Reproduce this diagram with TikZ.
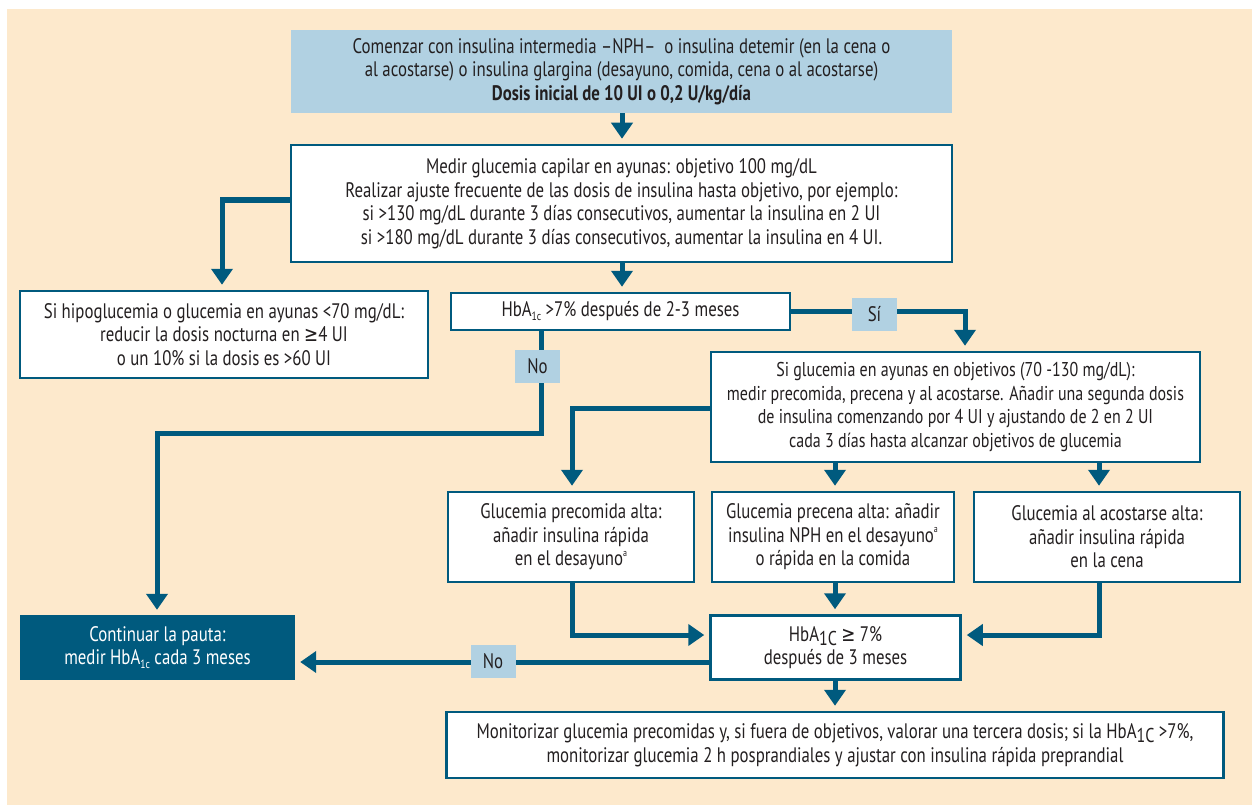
\documentclass[tikz,border=0pt]{standalone}
\usepackage{fontspec}
\setmainfont{PT Sans}[FakeStretch=0.8]
\newfontfamily\symf{DejaVu Sans}[FakeStretch=0.8]
\usetikzlibrary{arrows.meta}
\definecolor{beige}{HTML}{FDE9CC}
\definecolor{teal}{HTML}{005A7E}
\definecolor{lightb}{HTML}{B1D1E2}
\definecolor{txt}{HTML}{231F20}
\newcommand{\fs}{\fontsize{21}{23.5}\selectfont}
\newcommand{\fss}{\fontsize{20}{23.5}\selectfont}
\newcommand{\sbs}[1]{\raisebox{-0.35ex}{\fontsize{12}{12}\selectfont #1}}
\newcommand{\sbb}[1]{\raisebox{-0.4ex}{\fontsize{20}{20}\selectfont #1}}
\newcommand{\sps}[1]{\raisebox{0.9ex}{\fontsize{10}{10}\selectfont #1}}
\newcommand{\mygeq}{{\symf ≥}}
\tikzset{
  box/.style={draw=teal, line width=2.5pt, fill=white, align=center, inner sep=0pt, text=txt, font=\fs},
  topbox/.style={fill=lightb, align=center, inner sep=0pt, text=txt, font=\fs},
  darkbox/.style={fill=teal, align=center, inner sep=0pt, text=white, font=\fs},
  lab/.style={fill=lightb, minimum width=45pt, minimum height=33pt, inner sep=0pt, text=txt, font=\fs},
  conn/.style={draw=teal, line width=5pt},
  arr/.style={conn, -{Triangle[width=21pt,length=16pt]}, shorten >=5pt}
}
\begin{document}
\begin{tikzpicture}[x=1pt,y=-1pt]
\useasboundingbox (0,0) rectangle (1252,805);
\fill[white] (0,0) rectangle (1252,805);
\fill[beige] (7,9) rectangle (1252,805);

\node[topbox, minimum width=661pt, minimum height=83pt] (top) at (621.5,71.5)
 {Comenzar con insulina intermedia –NPH–\ \ o insulina detemir (en la cena o\\
  al acostarse) o insulina glargina (desayuno, comida, cena o al acostarse)\\
  \textbf{Dosis inicial de 10 UI o 0,2 U/kg/día}};

\node[box, minimum width=661pt, minimum height=117pt] (medir) at (621.5,203.5)
 {Medir glucemia capilar en ayunas: objetivo 100 mg/dL\\
  Realizar ajuste frecuente de las dosis de insulina hasta objetivo, por ejemplo:\\
  si >130 mg/dL durante 3 días consecutivos, aumentar la insulina en 2 UI\\
  si >180 mg/dL durante 3 días consecutivos, aumentar la insulina en 4 UI.};

\node[box, minimum width=408pt, minimum height=87pt] (hypo) at (224,334.5)
 {Si hipoglucemia o glucemia en ayunas <70 mg/dL:\\
  reducir la dosis nocturna en \mygeq 4 UI\\
  o un 10\% si la dosis es >60 UI};

\node[box, minimum width=339pt, minimum height=37pt] (hba) at (620.5,311.5)
 {HbA\sbs{1c} >7\% después de 2-3 meses};

\node[box, font=\fss, minimum width=489pt, minimum height=110pt] (sig) at (955.5,407)
 {Si glucemia en ayunas en objetivos (70 -130 mg/dL):\\
  medir precomida, precena y al acostarse. Añadir una segunda dosis\\
  de insulina comenzando por 4 UI y ajustando de 2 en 2 UI\\
  cada 3 días hasta alcanzar objetivos de glucemia};

\node[box, minimum width=246pt, minimum height=90pt] (prec) at (571,537)
 {Glucemia precomida alta:\\
  añadir insulina rápida\\
  en el desayuno\sps{a}};

\node[box, minimum width=242pt, minimum height=90pt] (pren) at (833,537)
 {Glucemia precena alta: añadir\\
  insulina NPH en el desayuno\sps{a}\\
  o rápida en la comida};

\node[box, minimum width=266pt, minimum height=90pt] (acos) at (1107,537)
 {Glucemia al acostarse alta:\\
  añadir insulina rápida\\
  en la cena};

\node[box, minimum width=250pt, minimum height=64pt] (hba7) at (835.5,647.5)
 {HbA\sbb{1C} \mygeq\ 7\%\\
  después de 3 meses};

\node[darkbox, minimum width=275pt, minimum height=65pt] (cont) at (157.5,647.5)
 {Continuar la pauta:\\
  medir HbA\sbs{1c} cada 3 meses};

\node[box, minimum width=777pt, minimum height=66pt] (moni) at (835,745)
 {Monitorizar glucemia precomidas y, si fuera de objetivos, valorar una tercera dosis; si la HbA\sbb{1C} >7\%,\\
  monitorizar glucemia 2 h posprandiales y ajustar con insulina rápida preprandial};

% connectors
\draw[arr] (top.south -| 622,0) -- (medir.north -| 622,0);
\draw[arr] (medir.west |- 0,200) -- (222,200) -- (hypo.north -| 222,0);
\draw[arr] (medir.south -| 622,0) -- (hba.north -| 622,0);
\draw[arr] (hba.east) -- (965,311.5) -- (sig.north -| 965,0);
\node[lab] (si) at (874.5,314) {Sí};
\draw[arr] (hba.south -| 541,0) -- (541,433) -- (157,433) -- (cont.north -| 157,0);
\node[lab] (no1) at (537.5,366.5) {No};
\draw[arr] (sig.west |- 0,408) -- (572,408) -- (prec.north -| 572,0);
\draw[arr] (sig.south -| 835,0) -- (pren.north -| 835,0);
\draw[arr] (sig.south -| 1099,0) -- (acos.north -| 1099,0);
\draw[arr] (prec.south -| 572,0) -- (572,635) -- (hba7.west |- 0,635);
\draw[arr] (pren.south -| 835,0) -- (hba7.north -| 835,0);
\draw[arr] (acos.south -| 1099,0) -- (1099,635) -- (hba7.east |- 0,635);
\draw[arr] (hba7.west |- 0,662) -- (cont.east |- 0,662);
\node[lab] (no2) at (493,661) {No};
\draw[arr] (hba7.south -| 835,0) -- (moni.north -| 835,0);
\end{tikzpicture}
\end{document}
